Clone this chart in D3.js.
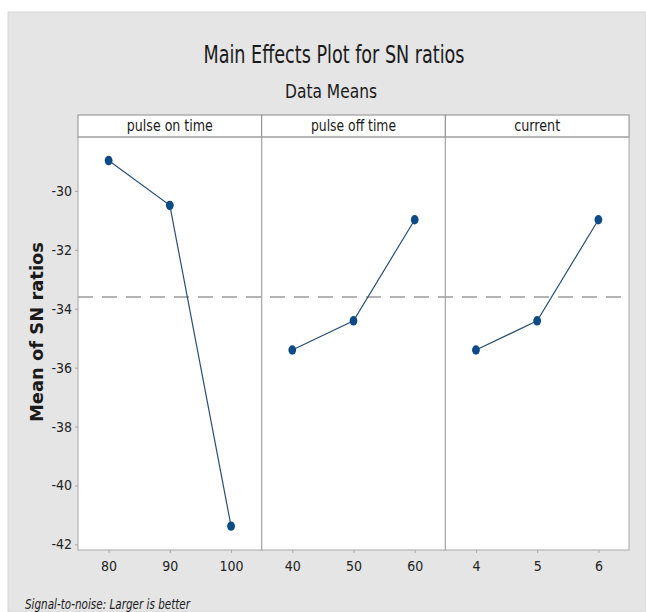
<!DOCTYPE html>
<html>
<head>
<meta charset="utf-8">
<script src="https://cdn.jsdelivr.net/npm/d3@7"></script>
<style>
  html, body { margin: 0; padding: 0; background: #ffffff; }
  svg { display: block; }
  .narrow { font-family: "Liberation Sans Narrow", "DejaVu Sans Condensed", "Open Sans", sans-serif; }
</style>
</head>
<body>
<div id="chart"></div>
<script>
// Factors and their levels
const factors = ["pulse on time", "pulse off time", "current"];
const levels = [
  ["80", "90", "100"],
  ["40", "50", "60"],
  ["4", "5", "6"]
];
// Mean of SN ratios at each level
const snMeans = [
  [-28.97, -30.49, -41.38],
  [-35.40, -34.41, -30.98],
  [-35.40, -34.41, -30.98]
];
const yTicks = [-30, -32, -34, -36, -38, -40, -42];

const W = 646, H = 612;
const plot = { left: 78, right: 629, top: 137, bottom: 550 };
const stripTop = 115;

const svg = d3.select("#chart").append("svg")
  .attr("width", W).attr("height", H);

// Background frame
svg.append("rect").attr("x", 0).attr("y", 0).attr("width", W).attr("height", H).attr("fill", "#ffffff");
svg.append("rect").attr("x", 8).attr("y", 12).attr("width", W - 8).attr("height", H - 12)
  .attr("fill", "#e5e5e5").attr("stroke", "#d6d6d6").attr("stroke-width", 1);

// Titles
svg.append("text").attr("class", "narrow")
  .attr("x", 334).attr("y", 63).attr("text-anchor", "middle")
  .attr("font-size", 25).attr("fill", "#1a1a1a")
  .attr("textLength", 261).attr("lengthAdjust", "spacingAndGlyphs")
  .text("Main Effects Plot for SN ratios");
svg.append("text").attr("class", "narrow")
  .attr("x", 331).attr("y", 98).attr("text-anchor", "middle")
  .attr("font-size", 19).attr("fill", "#1a1a1a")
  .attr("textLength", 92).attr("lengthAdjust", "spacingAndGlyphs")
  .text("Data Means");

// Scales
const panelX = d3.scaleBand().domain(factors).range([plot.left, plot.right]).padding(0);
const y = d3.scaleLinear().domain([-42.19, -28.17]).range([plot.bottom, plot.top]);

// Plot area
svg.append("rect")
  .attr("x", plot.left).attr("y", plot.top)
  .attr("width", plot.right - plot.left).attr("height", plot.bottom - plot.top)
  .attr("fill", "#ffffff");

// Overall mean reference line
const grandMean = d3.mean(snMeans.flat());
svg.append("line")
  .attr("x1", plot.left).attr("x2", plot.right)
  .attr("y1", y(grandMean)).attr("y2", y(grandMean))
  .attr("stroke", "#9a9a9a").attr("stroke-width", 1.6)
  .attr("stroke-dasharray", "15,9");

const lineGen = d3.line();

factors.forEach((f, i) => {
  const x0 = panelX(f);
  const bw = panelX.bandwidth();
  const x = d3.scalePoint().domain(levels[i]).range([x0, x0 + bw]).padding(0.5);

  // Strip header
  svg.append("rect")
    .attr("x", x0).attr("y", stripTop).attr("width", bw).attr("height", plot.top - stripTop)
    .attr("fill", "#ffffff").attr("stroke", "#8c8c8c").attr("stroke-width", 1);
  const stripLen = { "pulse on time": 86, "pulse off time": 85, "current": 46 }[f];
  svg.append("text").attr("class", "narrow")
    .attr("x", x0 + bw / 2).attr("y", 131).attr("text-anchor", "middle")
    .attr("font-size", 16).attr("fill", "#1a1a1a")
    .attr("textLength", stripLen).attr("lengthAdjust", "spacingAndGlyphs")
    .text(f);

  // Panel border
  svg.append("rect")
    .attr("x", x0).attr("y", plot.top).attr("width", bw).attr("height", plot.bottom - plot.top)
    .attr("fill", "none").attr("stroke", "#a8a8a8").attr("stroke-width", 1);

  // X axis
  const gx = svg.append("g").attr("transform", `translate(0,${plot.bottom})`)
    .call(d3.axisBottom(x).tickSize(3).tickPadding(8));
  gx.select(".domain").remove();
  gx.selectAll("line").attr("stroke", "#a8a8a8");
  gx.selectAll("text").attr("class", "narrow").attr("font-size", 14).attr("fill", "#222");

  // Effect line and markers
  const pts = levels[i].map((lv, j) => [x(lv), y(snMeans[i][j])]);
  svg.append("path").attr("d", lineGen(pts))
    .attr("fill", "none").attr("stroke", "#2a4f73").attr("stroke-width", 1.2);
  svg.selectAll(null).data(pts).enter().append("ellipse")
    .attr("cx", d => d[0]).attr("cy", d => d[1])
    .attr("rx", 3.9).attr("ry", 4.7)
    .attr("fill", "#0d4a86");
});

// Y axis (plain hyphen-minus labels)
const gy = svg.append("g").attr("transform", `translate(${plot.left},0)`)
  .call(d3.axisLeft(y).tickValues(yTicks).tickSize(3).tickPadding(3).tickFormat(d => String(d)));
gy.select(".domain").remove();
gy.selectAll("line").attr("stroke", "#a8a8a8");
gy.selectAll("text").attr("class", "narrow").attr("font-size", 14).attr("fill", "#222");

// Y axis title
svg.append("text")
  .attr("transform", `translate(43,332) rotate(-90)`)
  .attr("text-anchor", "middle")
  .attr("font-family", "'DejaVu Sans', 'Open Sans', sans-serif")
  .attr("font-weight", "bold").attr("font-size", 17).attr("fill", "#1a1a1a")
  .attr("textLength", 180).attr("lengthAdjust", "spacingAndGlyphs")
  .text("Mean of SN ratios");

// Footnote
svg.append("text").attr("class", "narrow")
  .attr("x", 25).attr("y", 609)
  .attr("font-size", 14).attr("font-style", "italic").attr("fill", "#1a1a1a")
  .attr("textLength", 165).attr("lengthAdjust", "spacingAndGlyphs")
  .text("Signal-to-noise: Larger is better");
</script>
</body>
</html>
